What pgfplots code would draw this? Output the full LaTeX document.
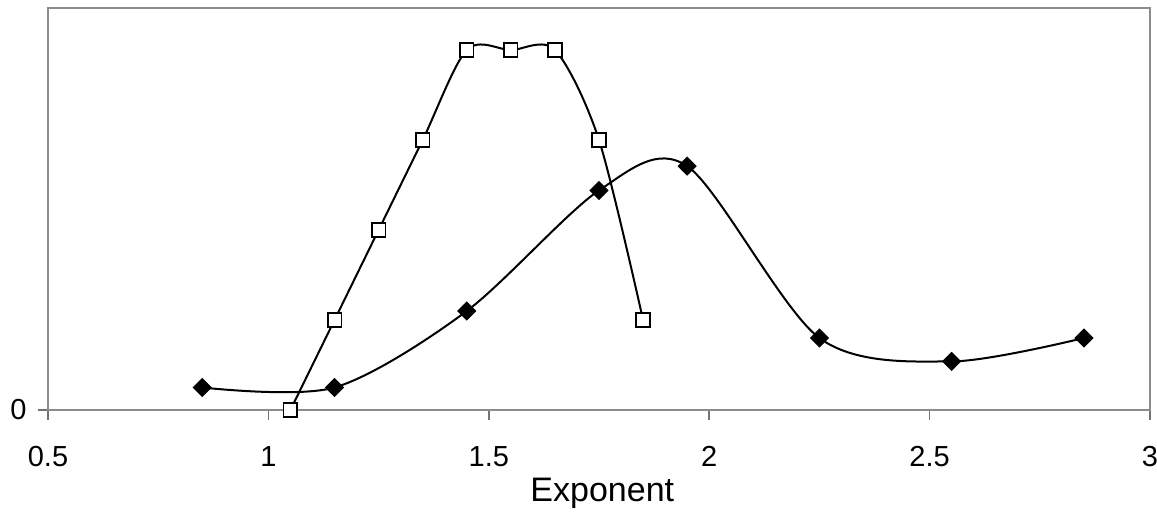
\documentclass[border=0pt]{standalone}
\usepackage{pgfplots}
\pgfplotsset{compat=1.18}
\usepackage{fontspec}
\setmainfont{Liberation Sans}
\begin{document}
\begin{tikzpicture}
\begin{axis}[
  scale only axis,
  width=551pt, height=201pt,
  xmin=0.5, xmax=3, ymin=0, ymax=4.467,
  xtick={0.5,1,1.5,2,2.5,3},
  ytick={0},
  axis line style={draw=black!45, line width=0.8pt},
  tick align=outside,
  major tick length=5pt,
  tick style={black!55, line width=0.8pt},
  xtick pos=bottom, ytick pos=left,
  /pgf/number format/assume math mode=true,
  ticklabel style={font=\fontsize{14.5}{16}\selectfont},
  xticklabel style={anchor=base, yshift=-23.5pt},
  yticklabel style={anchor=east, inner sep=0pt, xshift=-5.5pt},
  xlabel={Exponent},
  xlabel style={font=\fontsize{17}{19}\selectfont, at={(rel axis cs:0.503,0)}, anchor=base, yshift=-46pt},
  clip=false,
]
\addplot[black, line width=1pt, smooth, tension=0.5, mark=square*, mark options={fill=white, mark size=3.4pt, line width=0.8pt}]
coordinates {(1.05,0) (1.15,1) (1.25,2) (1.35,3) (1.45,4) (1.55,4) (1.65,4) (1.75,3) (1.85,1)};
\addplot[black, line width=1pt, smooth, tension=0.5, mark=square*, mark options={fill=black, mark size=2.9pt, rotate=45}]
coordinates {(0.85,0.25) (1.15,0.25) (1.45,1.1) (1.75,2.44) (1.95,2.71) (2.25,0.8) (2.55,0.54) (2.85,0.8)};
\end{axis}
\pgfresetboundingbox
\path (-24pt,-51.5pt) rectangle (554.5pt,205pt);
\end{tikzpicture}
\end{document}
